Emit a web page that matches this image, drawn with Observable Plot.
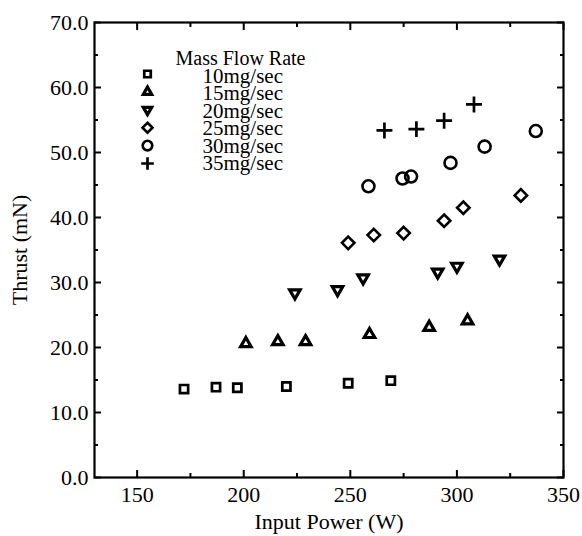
<!DOCTYPE html>
<html><head><meta charset="utf-8">
<script src="https://cdn.jsdelivr.net/npm/d3@7"></script>
<script src="https://cdn.jsdelivr.net/npm/@observablehq/plot@0.6"></script>
<style>
body{margin:0;background:#fff}
</style>
</head><body><div id="chart"></div>
<script>
// Data
const rates = ["10mg/sec", "15mg/sec", "20mg/sec", "25mg/sec", "30mg/sec", "35mg/sec"];
const power10 = [172, 187, 197, 220, 249, 269];
const thrust10 = [13.6, 13.9, 13.8, 14.0, 14.5, 14.9];
const power15 = [201, 216, 229, 259, 287, 305];
const thrust15 = [20.6, 20.9, 20.9, 22.0, 23.1, 24.1];
const power20 = [224, 244, 256, 291, 300, 320];
const thrust20 = [28.4, 28.9, 30.7, 31.6, 32.5, 33.6];
const power25 = [249, 261, 275, 294, 303, 330];
const thrust25 = [36.1, 37.3, 37.6, 39.5, 41.5, 43.4];
const power30 = [258.5, 274.5, 278.5, 297, 313, 337];
const thrust30 = [44.8, 46.0, 46.3, 48.4, 50.9, 53.3];
const power35 = [266, 281, 294, 308];
const thrust35 = [53.4, 53.6, 54.9, 57.4];
const xMajor = [150, 200, 250, 300, 350];
const xMinor = [175, 225, 275, 325];
const yMajor = [0, 10, 20, 30, 40, 50, 60, 70];
const yMinor = [5, 15, 25, 35, 45, 55, 65];
const legendTitle = "Mass Flow Rate";
const xLabel = "Input Power (W)";
const yLabel = "Thrust (mN)";

const powers = [power10, power15, power20, power25, power30, power35];
const thrusts = [thrust10, thrust15, thrust20, thrust25, thrust30, thrust35];
// marker styling (kept apart from data)
const styles = [
  {symbol: "square2", r: 5.2, rotate: 0, sw: 2.7},
  {symbol: "triangle2", r: 5, rotate: 0, sw: 3.2},
  {symbol: "triangle2", r: 5, rotate: 180, sw: 3.2},
  {symbol: "diamond2", r: 5.6, rotate: 0, sw: 2.6},
  {symbol: "circle", r: 6, rotate: 0, sw: 2.6},
  {symbol: "plus", r: 5.2, rotate: 0, sw: 2.7}
];

const series = rates.map((rate, i) => powers[i].map((p, j) => ({rate, power: p, thrust: thrusts[i][j]})));
const FONT = "'Liberation Serif', Tinos, 'DejaVu Serif', serif";

const marks = [];

series.forEach((data, i) => {
  const s = styles[i];
  marks.push(Plot.dot(data, {x: "power", y: "thrust", symbol: () => s.symbol, r: s.r, rotate: s.rotate, stroke: "black", strokeWidth: s.sw, fill: "none"}));
  // legend entries
  marks.push(Plot.dot([rates[i]], {x: null, y: null, frameAnchor: "top-left", dx: 53, dy: 51.5 + 17.9 * i, symbol: () => s.symbol, r: s.r * 0.8, rotate: s.rotate, stroke: "black", strokeWidth: s.sw, fill: "none"}));
  marks.push(Plot.text([rates[i]], {x: null, y: null, text: d => d, frameAnchor: "top-left", lineAnchor: "middle", dx: 108, dy: 53.5 + 17.5 * i, textAnchor: "start", fontSize: 21, fontFamily: FONT, fill: "black"}));
});
marks.push(Plot.text([legendTitle], {x: null, y: null, text: d => d, frameAnchor: "top-left", lineAnchor: "middle", dx: 81, dy: 36, textAnchor: "start", fontSize: 20, fontFamily: FONT, fill: "black"}));

// axes: labels
marks.push(Plot.axisX(xMajor, {anchor: "bottom", tickSize: 0, tickPadding: 9, fontSize: 22, fontFamily: FONT, tickFormat: d => String(d), label: null}));
marks.push(Plot.axisY(yMajor, {anchor: "left", tickSize: 0, tickPadding: 6, fontSize: 22, fontFamily: FONT, tickFormat: d => d.toFixed(1), label: null}));
// inward ticks on all four sides
for (const anchor of ["bottom", "top"]) {
  marks.push(Plot.axisX(xMajor, {anchor, tickSize: -7, strokeWidth: 2, tickFormat: () => "", label: null}));
  marks.push(Plot.axisX(xMinor, {anchor, tickSize: -4, strokeWidth: 2, tickFormat: () => "", label: null}));
}
for (const anchor of ["left", "right"]) {
  marks.push(Plot.axisY(yMajor, {anchor, tickSize: -7, strokeWidth: 2, tickFormat: () => "", label: null}));
  marks.push(Plot.axisY(yMinor, {anchor, tickSize: -4, strokeWidth: 2, tickFormat: () => "", label: null}));
}
marks.push(Plot.frame({stroke: "black", strokeWidth: 2.2}));
// axis titles
marks.push(Plot.text([xLabel], {x: null, y: null, text: d => d, frameAnchor: "bottom", lineAnchor: "middle", textAnchor: "middle", dy: 44, fontSize: 22, fontFamily: FONT, fill: "black"}));
marks.push(Plot.text([yLabel], {x: null, y: null, text: d => d, frameAnchor: "left", lineAnchor: "middle", textAnchor: "middle", dx: -75, rotate: -90, fontSize: 22, fontFamily: FONT, fill: "black"}));

const chart = Plot.plot({
  width: 582,
  height: 536,
  marginLeft: 94,
  marginRight: 19,
  marginTop: 22,
  marginBottom: 59,
  style: {background: "white", color: "black", fontFamily: FONT},
  x: {domain: [130, 350], label: null},
  y: {domain: [0, 70], label: null},
  symbol: {type: "identity"},
  marks
});
document.getElementById("chart").appendChild(chart);
</script>
</body></html>
